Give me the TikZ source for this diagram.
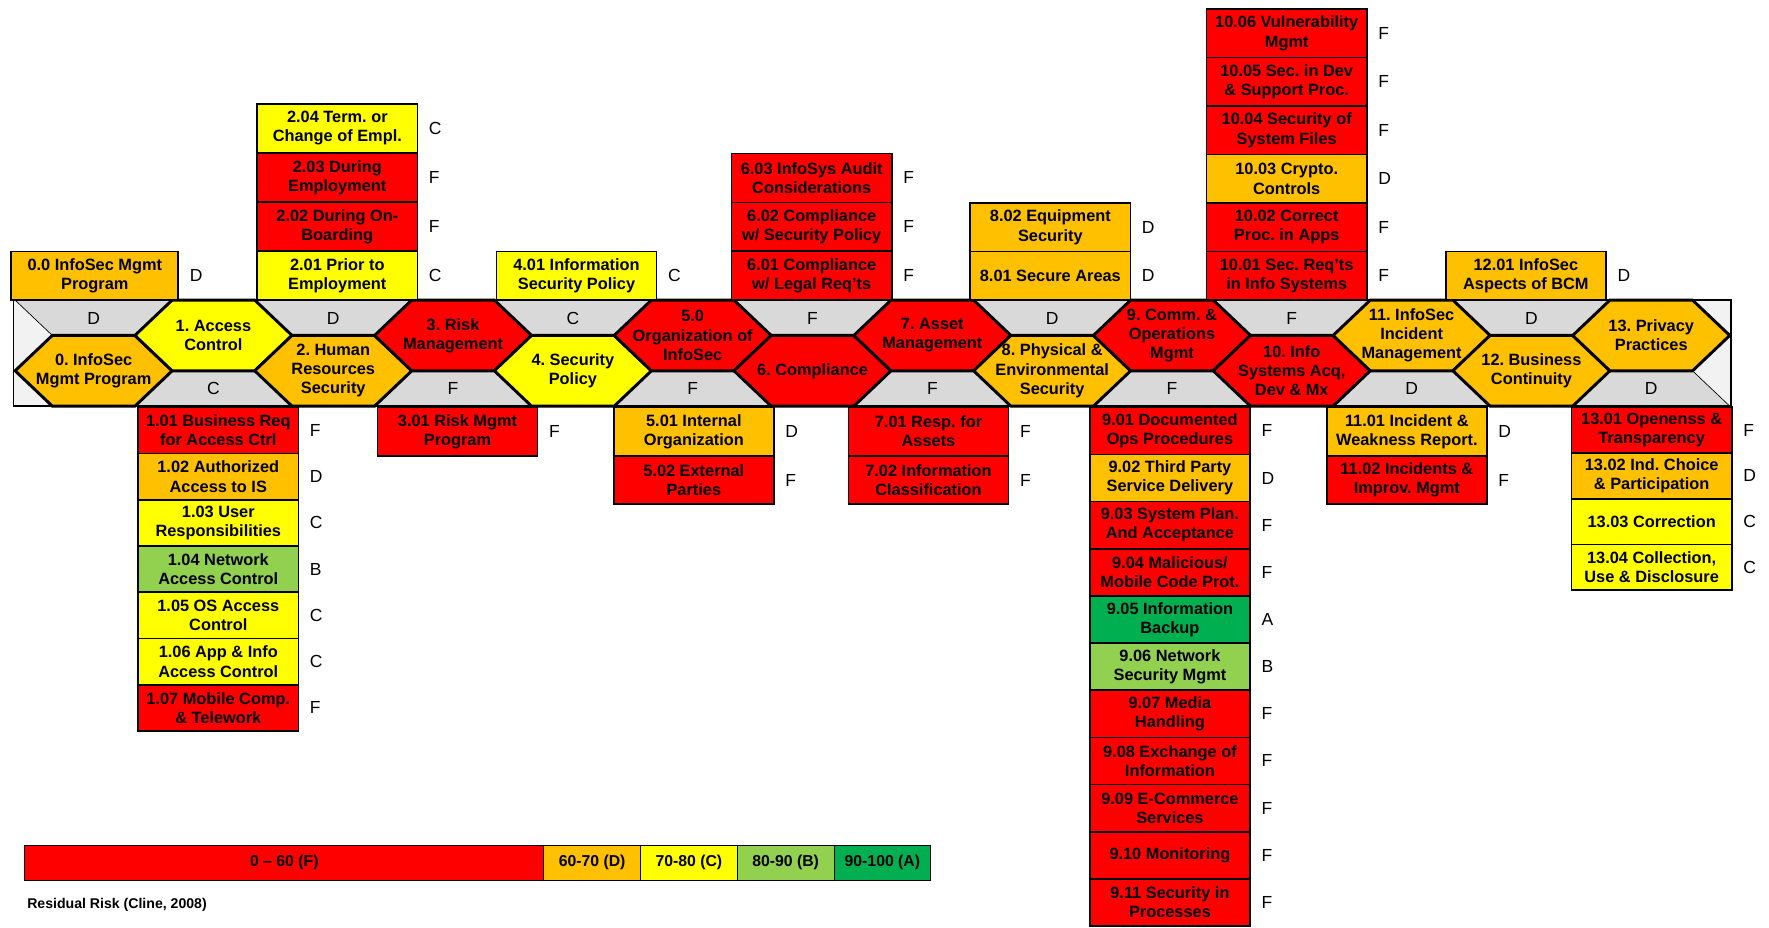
\documentclass[tikz,border=0pt]{standalone}
\usepackage{fontspec}
\setmainfont{Liberation Sans}
\usetikzlibrary{positioning}
\frenchspacing

\definecolor{gradeF}{HTML}{FF0000}
\definecolor{gradeD}{HTML}{FFC000}
\definecolor{gradeC}{HTML}{FFFF00}
\definecolor{gradeB}{HTML}{92D050}
\definecolor{gradeA}{HTML}{00B050}
\definecolor{bandgrey}{HTML}{D9D9D9}
\definecolor{bandlight}{HTML}{F2F2F2}

% hexagon number / caption / grade
\newcommand{\hexcells}{0/{0. InfoSec\\Mgmt Program}/D, 1/{1. Access\\Control}/C,
	2/{2. Human\\Resources\\Security}/D, 3/{3. Risk\\Management}/F,
	4/{4. Security\\Policy}/C, 5/{5.0\\Organization of\\InfoSec}/F,
	6/{6. Compliance}/F, 7/{7. Asset\\Management}/F,
	8/{8. Physical \&\\Environmental\\Security}/D, 9/{9. Comm. \&\\Operations\\Mgmt}/F,
	10/{10. Info\\Systems Acq,\\Dev \& Mx}/F, 11/{11. InfoSec\\Incident\\Management}/D,
	12/{12. Business\\Continuity}/D, 13/{13. Privacy\\Practices}/D}

\begin{document}
\begin{tikzpicture}
	[x=1pt,y=1pt%
	,cell/.style={draw=black,line width=1.5pt,%
		minimum width=142pt,inner sep=1pt,outer sep=0pt,%
		align=center,font=\fontsize{14.5}{17}\selectfont\bfseries}%
	,gradetag/.style={inner sep=0pt,font=\fontsize{15.5}{18}\selectfont}%
	,hexline/.style={draw=black,line width=2.6pt}%
	,hexcap/.style={align=center,inner sep=0pt,%
		font=\fontsize{14.5}{17}\selectfont\bfseries}%
	,gapcell/.style={draw=black,line width=0.6pt,fill=bandgrey}%
	,legendcell/.style={draw=black,line width=0.8pt,outer sep=0pt,%
		minimum height=31pt,inner sep=0pt,%
		font=\fontsize{14}{16}\selectfont\bfseries}]

	\useasboundingbox (0,0) rectangle (1568,-822);

	% band with grey gaps
	\fill[bandlight] (12,-266) rectangle (1534,-360);
	\begin{scope}
		\clip (12,-266) rectangle (1534,-360);
		\foreach \i/\lbl/\gr in \hexcells {
			\pgfmathsetmacro\hx{83+106.2*\i}
			\pgfmathsetmacro\vy{isodd(\i) ? -360 : -266}
			\draw[gapcell] (\hx-69.6,\vy) -- ++(33,31.35) -- ++(73.2,0)
				-- ++(33,-31.35) -- ++(-33,-31.35) -- ++(-73.2,0) -- cycle;
		}
	\end{scope}
	\foreach \i/\lbl/\gr in \hexcells {
		\pgfmathsetmacro\hx{83+106.2*\i}
		\pgfmathsetmacro\ly{isodd(\i) ? -344 : -282}
		\node[gradetag] (gap\i) at (\hx,\ly) {\gr};
	}

	% hexagons
	\foreach \i/\lbl/\gr in \hexcells {
		\pgfmathsetmacro\hx{83+106.2*\i}
		\pgfmathsetmacro\hy{isodd(\i) ? -297.35 : -328.65}
		\draw[hexline,fill=grade\gr] (\hx-69.6,\hy) -- ++(33,31.35) -- ++(73.2,0)
			-- ++(33,-31.35) -- ++(-33,-31.35) -- ++(-73.2,0) -- cycle;
		\node[hexcap] (hex\i) at (\hx,\hy) {\lbl};
	}
	\draw[line width=1.5pt] (12,-266) rectangle (1534,-360);

	% columns above the band
	\foreach \txt/\gr [count=\k] in {{0.0 InfoSec Mgmt\\Program}/D}
		{\node[cell,fill=grade\gr,minimum width=148pt,minimum height=43pt] (up0-\k)
			at (84,{-266+(\k-0.5)*43}) {\txt};
		\node[gradetag,right=10pt of up0-\k] (gup0-\k) {\gr};}
	\foreach \txt/\gr [count=\k] in {{2.01 Prior to\\Employment}/C,%
		{2.02 During On-\\Boarding}/F,{2.03 During\\Employment}/F,%
		{2.04 Term. or\\Change of Empl.}/C}
		{\node[cell,fill=grade\gr,minimum height=43.5pt] (up2-\k)
			at (299,{-266+(\k-0.5)*43.5}) {\txt};
		\node[gradetag,right=10pt of up2-\k] (gup2-\k) {\gr};}
	\foreach \txt/\gr [count=\k] in {{4.01 Information\\Security Policy}/C}
		{\node[cell,fill=grade\gr,minimum height=43pt] (up4-\k)
			at (511,{-266+(\k-0.5)*43}) {\txt};
		\node[gradetag,right=10pt of up4-\k] (gup4-\k) {\gr};}
	\foreach \txt/\gr [count=\k] in {{6.01 Compliance\\w/ Legal Req’ts}/F,%
		{6.02 Compliance\\w/ Security Policy}/F,{6.03 InfoSys Audit\\Considerations}/F}
		{\node[cell,fill=grade\gr,minimum height=43.3pt] (up6-\k)
			at (719.5,{-266+(\k-0.5)*43.3}) {\txt};
		\node[gradetag,right=10pt of up6-\k] (gup6-\k) {\gr};}
	\foreach \txt/\gr [count=\k] in {{8.01 Secure Areas}/D,{8.02 Equipment\\Security}/D}
		{\node[cell,fill=grade\gr,minimum height=43pt] (up8-\k)
			at (931,{-266+(\k-0.5)*43}) {\txt};
		\node[gradetag,right=10pt of up8-\k] (gup8-\k) {\gr};}
	\foreach \txt/\gr [count=\k] in {{10.01 Sec. Req’ts\\in Info Systems}/F,%
		{10.02 Correct\\Proc. in Apps}/F,{10.03 Crypto.\\Controls}/D,%
		{10.04 Security of\\System Files}/F,{10.05 Sec. in Dev\\\& Support Proc.}/F,%
		{10.06 Vulnerability\\Mgmt}/F}
		{\node[cell,fill=grade\gr,minimum height=43pt] (up10-\k)
			at (1140.5,{-266+(\k-0.5)*43}) {\txt};
		\node[gradetag,right=10pt of up10-\k] (gup10-\k) {\gr};}
	\foreach \txt/\gr [count=\k] in {{12.01 InfoSec\\Aspects of BCM}/D}
		{\node[cell,fill=grade\gr,minimum height=43pt] (up12-\k)
			at (1352.5,{-266+(\k-0.5)*43}) {\txt};
		\node[gradetag,right=10pt of up12-\k] (gup12-\k) {\gr};}

	% columns below the band
	\foreach \txt/\gr [count=\k] in {{1.01 Business Req\\for Access Ctrl}/F,%
		{1.02 Authorized\\Access to IS}/D,{1.03 User\\Responsibilities}/C,%
		{1.04 Network\\Access Control}/B,{1.05 OS Access\\Control}/C,%
		{1.06 App \& Info\\Access Control}/C,{1.07 Mobile Comp.\\\& Telework}/F}
		{\node[cell,fill=grade\gr,minimum height=41pt] (dn1-\k)
			at (193.5,{-361-(\k-0.5)*41}) {\txt};
		\node[gradetag,right=10pt of dn1-\k] (gdn1-\k) {\gr};}
	\foreach \txt/\gr [count=\k] in {{3.01 Risk Mgmt\\Program}/F}
		{\node[cell,fill=grade\gr,minimum height=43pt] (dn3-\k)
			at (405.5,{-361-(\k-0.5)*43}) {\txt};
		\node[gradetag,right=10pt of dn3-\k] (gdn3-\k) {\gr};}
	\foreach \txt/\gr [count=\k] in {{5.01 Internal\\Organization}/D,%
		{5.02 External\\Parties}/F}
		{\node[cell,fill=grade\gr,minimum height=43pt] (dn5-\k)
			at (615,{-361-(\k-0.5)*43}) {\txt};
		\node[gradetag,right=10pt of dn5-\k] (gdn5-\k) {\gr};}
	\foreach \txt/\gr [count=\k] in {{7.01 Resp. for\\Assets}/F,%
		{7.02 Information\\Classification}/F}
		{\node[cell,fill=grade\gr,minimum height=43pt] (dn7-\k)
			at (823,{-361-(\k-0.5)*43}) {\txt};
		\node[gradetag,right=10pt of dn7-\k] (gdn7-\k) {\gr};}
	\foreach \txt/\gr [count=\k] in {{9.01 Documented\\Ops Procedures}/F,%
		{9.02 Third Party\\Service Delivery}/D,{9.03 System Plan.\\And Acceptance}/F,%
		{9.04 Malicious/\\Mobile Code Prot.}/F,{9.05 Information\\Backup}/A,%
		{9.06 Network\\Security Mgmt}/B,{9.07 Media\\Handling}/F,%
		{9.08 Exchange of\\Information}/F,{9.09 E-Commerce\\Services}/F,%
		{9.10 Monitoring}/F,{9.11 Security in\\Processes}/F}
		{\node[cell,fill=grade\gr,minimum height=41.8pt] (dn9-\k)
			at (1037,{-361-(\k-0.5)*41.8}) {\txt};
		\node[gradetag,right=10pt of dn9-\k] (gdn9-\k) {\gr};}
	\foreach \txt/\gr [count=\k] in {{11.01 Incident \&\\Weakness Report.}/D,%
		{11.02 Incidents \&\\Improv. Mgmt}/F}
		{\node[cell,fill=grade\gr,minimum height=43pt] (dn11-\k)
			at (1247,{-361-(\k-0.5)*43}) {\txt};
		\node[gradetag,right=10pt of dn11-\k] (gdn11-\k) {\gr};}
	\foreach \txt/\gr [count=\k] in {{13.01 Openenss \&\\Transparency}/F,%
		{13.02 Ind. Choice\\\& Participation}/D,{13.03 Correction}/C,%
		{13.04 Collection,\\Use \& Disclosure}/C}
		{\node[cell,fill=grade\gr,minimum height=40.5pt] (dn13-\k)
			at (1464,{-361-(\k-0.5)*40.5}) {\txt};
		\node[gradetag,right=10pt of dn13-\k] (gdn13-\k) {\gr};}

	% legend
	\node[legendcell,fill=gradeF,minimum width=460pt] (keyF) at (252,-764.5) {0 – 60 (F)};
	\node[legendcell,fill=gradeD,minimum width=85.75pt,right=0pt of keyF] (keyD) {60-70 (D)};
	\node[legendcell,fill=gradeC,minimum width=85.75pt,right=0pt of keyD] (keyC) {70-80 (C)};
	\node[legendcell,fill=gradeB,minimum width=85.75pt,right=0pt of keyC] (keyB) {80-90 (B)};
	\node[legendcell,fill=gradeA,minimum width=85.75pt,right=0pt of keyB] (keyA) {90-100 (A)};
	\node[anchor=west,inner sep=0pt,font=\fontsize{12.5}{15}\selectfont\bfseries]
		(credit) at (24,-802) {Residual Risk (Cline, 2008)};
\end{tikzpicture}
\end{document}
